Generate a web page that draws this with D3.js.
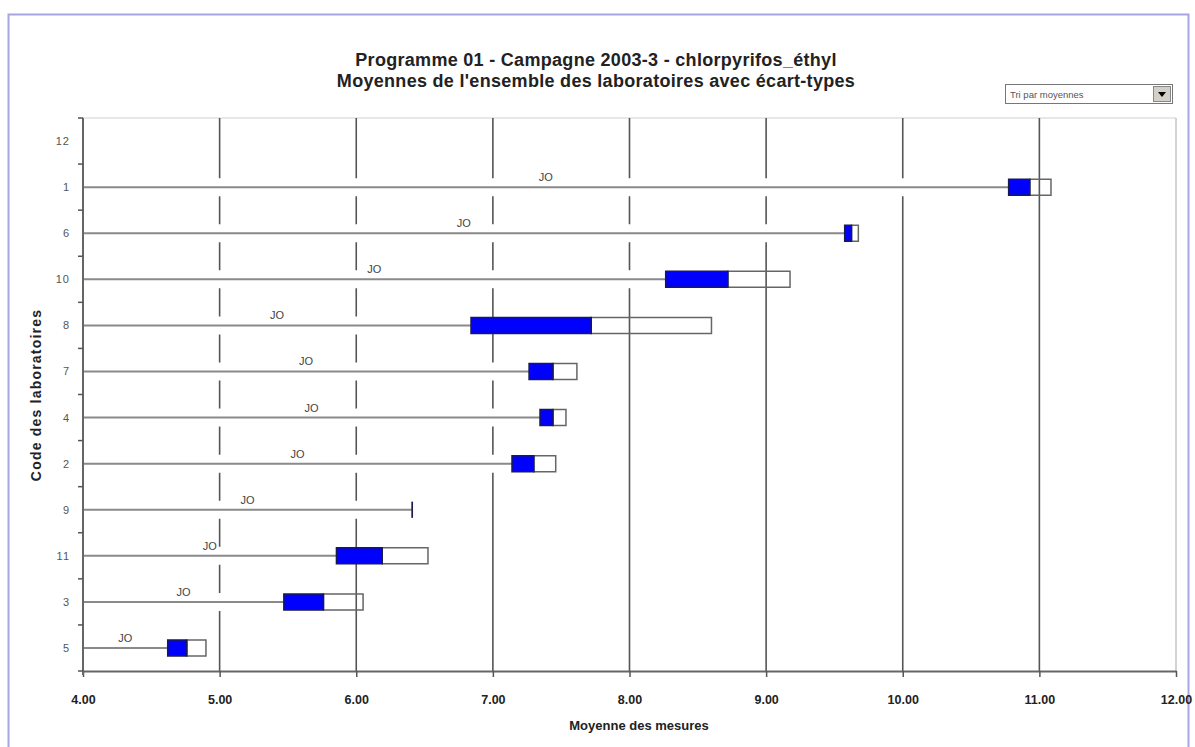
<!DOCTYPE html>
<html>
<head>
<meta charset="utf-8">
<script src="https://cdn.jsdelivr.net/npm/d3@7"></script>
<style>
  body { margin: 0; background: #fff; }
  svg { font-family: "Liberation Sans", Arial, sans-serif; }
</style>
</head>
<body>
<div id="graphe"></div>
<script>
// codes des laboratoires, de haut en bas
const codes = ["12", "1", "6", "10", "8", "7", "4", "2", "9", "11", "3", "5"];
// moyennes et ecart-types (null = pas de resultat)
const moyennes = [null, 10.93, 9.625, 8.72, 7.72, 7.44, 7.44, 7.30, 6.41, 6.19, 5.76, 4.76];
const ecartTypes = [null, 0.155, 0.05, 0.455, 0.88, 0.175, 0.095, 0.16, 0, 0.335, 0.29, 0.14];
const etiquettes = ["", "JO", "JO", "JO", "JO", "JO", "JO", "JO", "JO", "JO", "JO", "JO"];
const xTicks = [4, 5, 6, 7, 8, 9, 10, 11, 12];

const titre1 = "Programme 01 - Campagne 2003-3 - chlorpyrifos_éthyl";
const titre2 = "Moyennes de l'ensemble des laboratoires avec écart-types";

const podatci = codes.map((c, i) => ({
    code: c,
    moyenne: moyennes[i],
    et: ecartTypes[i],
    label: etiquettes[i]
}));

const dim = {
    sirina: 1195,
    visina: 747,
    left: 83,
    right: 1176,
    top: 118,
    bottom: 671
};

const svg = d3.select("#graphe")
    .append("svg")
        .attr("width", dim.sirina)
        .attr("height", dim.visina);

// cadre
svg.append("rect")
    .attr("x", 8.5).attr("y", 14.5)
    .attr("width", 1180).attr("height", 745)
    .attr("fill", "none")
    .attr("stroke", "#a6a6e0")
    .attr("stroke-width", 2);

// titres
svg.append("text")
    .attr("x", 596).attr("y", 66)
    .attr("text-anchor", "middle")
    .style("font-size", "18px").style("font-weight", "bold").style("letter-spacing", "0.3px")
    .attr("fill", "#222")
    .text(titre1);
svg.append("text")
    .attr("x", 596).attr("y", 87)
    .attr("text-anchor", "middle")
    .style("font-size", "18px").style("font-weight", "bold").style("letter-spacing", "0.3px")
    .attr("fill", "#222")
    .text(titre2);

// liste deroulante
const liste = svg.append("g");
liste.append("rect")
    .attr("x", 1005.5).attr("y", 84.5).attr("width", 167).attr("height", 19)
    .attr("fill", "#fff").attr("stroke", "#777");
liste.append("rect")
    .attr("x", 1153.5).attr("y", 86.5).attr("width", 17).attr("height", 15)
    .attr("fill", "#d4d0c8").attr("stroke", "#888");
liste.append("path")
    .attr("d", "M1158,92 L1166,92 L1162,97 Z")
    .attr("fill", "#000");
liste.append("text")
    .attr("x", 1010).attr("y", 98)
    .style("font-size", "9.5px").attr("fill", "#555")
    .text("Tri par moyennes");

const xSkala = d3.scaleLinear()
    .domain([4, 12])
    .range([dim.left, dim.right]);

const ySkala = d3.scaleBand()
    .domain(codes)
    .range([dim.top, dim.bottom]);

const yc = d => ySkala(d.code) + ySkala.bandwidth() / 2;
const hBar = 18;
const avecDonnees = podatci.filter(d => d.moyenne !== null);

// bord superieur
svg.append("line")
    .attr("x1", dim.left).attr("x2", dim.right)
    .attr("y1", dim.top).attr("y2", dim.top)
    .attr("stroke", "#d0d0d0").attr("stroke-width", 1);

// quadrillage vertical, interrompu la ou passent les lignes des laboratoires
function cheminGrille(v) {
    const x = xSkala(v);
    const coupes = avecDonnees
        .filter(d => d.moyenne - d.et > v)
        .map(d => [yc(d) - hBar / 2, yc(d) + hBar / 2])
        .sort((a, b) => a[0] - b[0]);
    let y = dim.top;
    let p = "";
    coupes.forEach(c => {
        if (c[0] > y) p += `M${x},${y}V${c[0]}`;
        y = c[1];
    });
    if (y < dim.bottom) p += `M${x},${y}V${dim.bottom}`;
    return p;
}

svg.append("g")
    .attr("class", "grille")
    .selectAll("path")
    .data(xTicks.slice(1))
    .join("path")
        .attr("d", d => cheminGrille(d))
        .attr("fill", "none")
        .attr("stroke", d => d === 12 ? "#c8c8c8" : "#555")
        .attr("stroke-width", 1.6);

// lignes de base
svg.append("g")
    .selectAll("line")
    .data(avecDonnees)
    .join("line")
        .attr("x1", xSkala(4))
        .attr("x2", d => xSkala(d.moyenne - d.et))
        .attr("y1", d => yc(d)).attr("y2", d => yc(d))
        .attr("stroke", "#8a8a8a")
        .attr("stroke-width", 2);

// etiquettes JO
svg.append("g")
    .selectAll("text")
    .data(avecDonnees)
    .join("text")
        .attr("x", d => (xSkala(4) + xSkala(d.moyenne - d.et)) / 2)
        .attr("y", d => yc(d) - 6)
        .attr("text-anchor", "middle")
        .style("font-size", "11px")
        .attr("fill", "#444")
        .text(d => d.label);

const hBoite = 16;
const boite = (x0, x1, d) => {
    const y0 = yc(d) - hBoite / 2, y1 = yc(d) + hBoite / 2;
    return `M${x0},${y0}H${x1}V${y1}H${x0}Z`;
};

// partie blanche (moyenne a moyenne + ecart-type)
svg.append("g")
    .selectAll("path")
    .data(avecDonnees)
    .join("path")
        .attr("d", d => boite(xSkala(d.moyenne), xSkala(d.moyenne + d.et), d))
        .attr("fill", "none")
        .attr("stroke", "#666")
        .attr("stroke-width", 1.5);

// partie bleue (moyenne - ecart-type a moyenne)
svg.append("g")
    .selectAll("path")
    .data(avecDonnees)
    .join("path")
        .attr("d", d => boite(xSkala(d.moyenne - d.et), xSkala(d.moyenne), d))
        .attr("fill", "#0000ff")
        .attr("stroke", "#1a1a50")
        .attr("stroke-width", 1.5);

// axe x
const xOsGen = d3.axisBottom(xSkala)
    .tickValues(xTicks)
    .tickFormat(d3.format(".2f"))
    .tickSize(6)
    .tickSizeOuter(0);
const xOs = svg.append("g")
    .attr("transform", `translate(0,${dim.bottom})`)
    .call(xOsGen);
xOs.select(".domain").attr("stroke", "#666").attr("stroke-width", 2);
xOs.selectAll(".tick line").attr("stroke", "#555").attr("stroke-width", 1.5);
xOs.selectAll(".tick text")
    .attr("y", 24)
    .style("font-size", "12.5px")
    .style("font-weight", "bold")
    .style("font-family", "'Liberation Sans Narrow', 'Liberation Sans', Arial")
    .attr("fill", "#222");

svg.append("text")
    .attr("x", 639).attr("y", 730)
    .attr("text-anchor", "middle")
    .style("font-size", "13px").style("font-weight", "bold").attr("fill", "#222")
    .text("Moyenne des mesures");

// axe y
const yOs = svg.append("g")
    .attr("transform", `translate(${dim.left},0)`);
yOs.append("line")
    .attr("x1", 0).attr("x2", 0)
    .attr("y1", dim.top).attr("y2", dim.bottom + 4)
    .attr("stroke", "#666").attr("stroke-width", 2);
// petites graduations entre les codes
yOs.selectAll("line.gr")
    .data(d3.range(codes.length + 1))
    .join("line")
        .attr("class", "gr")
        .attr("x1", -5).attr("x2", 0)
        .attr("y1", i => dim.top + i * ySkala.bandwidth())
        .attr("y2", i => dim.top + i * ySkala.bandwidth())
        .attr("stroke", "#555").attr("stroke-width", 1.5);
yOs.selectAll("text")
    .data(codes)
    .join("text")
        .attr("x", -13)
        .attr("y", c => ySkala(c) + ySkala.bandwidth() / 2 + 4)
        .attr("text-anchor", "end")
        .style("font-size", "11px")
        .style("letter-spacing", "1px")
        .attr("fill", "#555")
        .text(c => c);

svg.append("text")
    .attr("transform", "translate(41,395) rotate(-90)")
    .attr("text-anchor", "middle")
    .style("font-size", "14px").style("font-weight", "bold").style("letter-spacing", "1.2px")
    .attr("fill", "#222")
    .text("Code des laboratoires");
</script>
</body>
</html>
